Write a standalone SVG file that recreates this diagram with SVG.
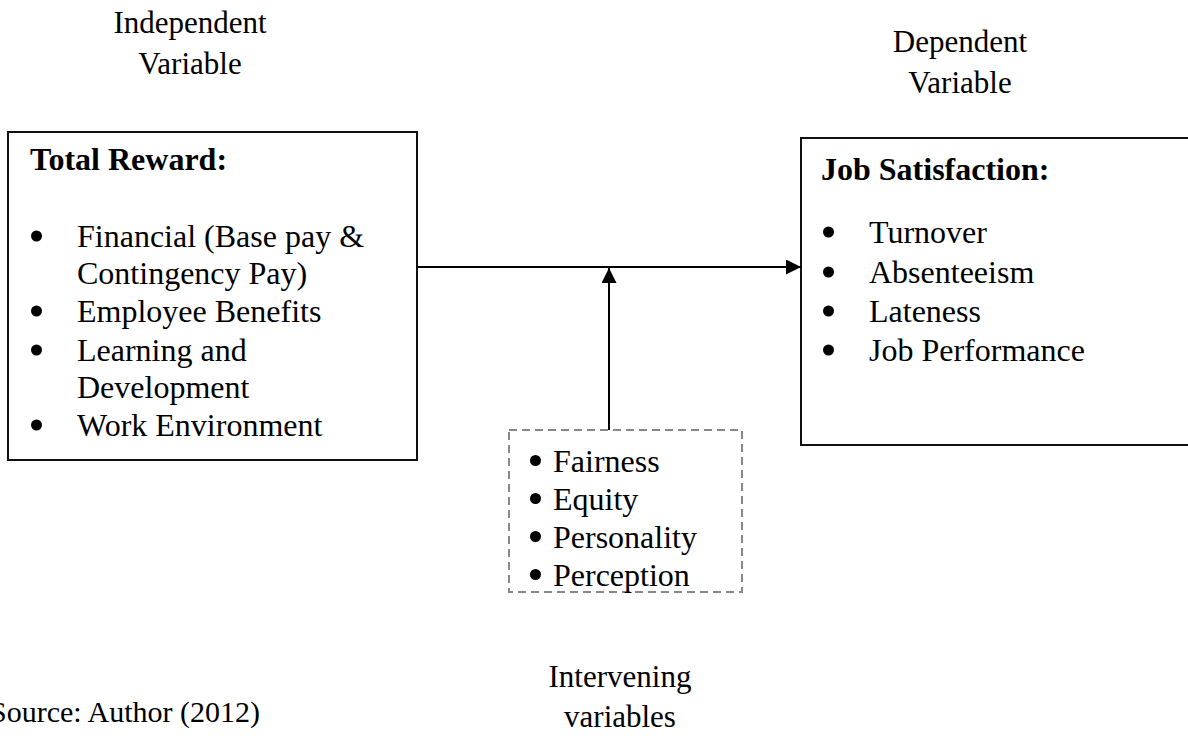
<svg xmlns="http://www.w3.org/2000/svg" width="1188" height="736" viewBox="0 0 1188 736">
<style>
text{font-family:"Liberation Serif","Times New Roman",serif;font-size:32px;fill:#000}
.h{font-size:31px}
.s{font-size:30px}
.b{font-weight:bold}
.c{text-anchor:middle}
.box{fill:#fff;stroke:#111;stroke-width:2}
.dash{fill:#fff;stroke:#888;stroke-width:2;stroke-dasharray:8 5}
.ln{stroke:#000;stroke-width:2;fill:none}
.dot{fill:#000}
</style>
<defs>
<marker id="ah" markerUnits="userSpaceOnUse" markerWidth="16" markerHeight="16" refX="15" refY="7.5" orient="auto">
<path d="M0,0 L15,7.5 L0,15 Z" fill="#000"/>
</marker>
</defs>
<g id="label-independent">
<text class="c h" x="190" y="33">Independent</text>
<text class="c h" x="190" y="74">Variable</text>
</g>
<g id="label-dependent">
<text class="c h" x="960" y="52">Dependent</text>
<text class="c h" x="960" y="93">Variable</text>
</g>
<g id="node-total-reward">
<rect class="box" x="8" y="132" width="409" height="328"/>
<text class="b" x="30" y="170">Total Reward:</text>
<circle class="dot" cx="36.5" cy="236" r="5.5"/><text x="77" y="247">Financial (Base pay &amp;</text>
<text x="77" y="284">Contingency Pay)</text>
<circle class="dot" cx="36.5" cy="311" r="5.5"/><text x="77" y="322">Employee Benefits</text>
<circle class="dot" cx="36.5" cy="350" r="5.5"/><text x="77" y="361">Learning and</text>
<text x="77" y="398">Development</text>
<circle class="dot" cx="36.5" cy="425" r="5.5"/><text x="77" y="436">Work Environment</text>
</g>
<g id="node-job-satisfaction">
<rect class="box" x="801" y="138" width="400" height="307"/>
<text class="b" x="821" y="180">Job Satisfaction:</text>
<circle class="dot" cx="828.5" cy="232" r="5.5"/><text x="869" y="243">Turnover</text>
<circle class="dot" cx="828.5" cy="272" r="5.5"/><text x="869" y="283">Absenteeism</text>
<circle class="dot" cx="828.5" cy="311" r="5.5"/><text x="869" y="322">Lateness</text>
<circle class="dot" cx="828.5" cy="350" r="5.5"/><text x="869" y="361">Job Performance</text>
</g>
<g id="node-intervening">
<rect class="dash" x="509" y="430" width="233" height="162"/>
<circle class="dot" cx="535.5" cy="460.5" r="5.5"/><text x="553" y="472">Fairness</text>
<circle class="dot" cx="535.5" cy="498.5" r="5.5"/><text x="553" y="510">Equity</text>
<circle class="dot" cx="535.5" cy="536.5" r="5.5"/><text x="553" y="548">Personality</text>
<circle class="dot" cx="535.5" cy="574.5" r="5.5"/><text x="553" y="586">Perception</text>
</g>
<g id="connectors">
<line class="ln" x1="417" y1="267" x2="801" y2="267" marker-end="url(#ah)"/>
<line class="ln" x1="609" y1="430" x2="609" y2="268" marker-end="url(#ah)"/>
</g>
<g id="label-intervening">
<text class="c h" x="620" y="687">Intervening</text>
<text class="c h" x="620" y="727">variables</text>
</g>
<g id="source">
<text class="s" x="-10" y="722">Source: Author (2012)</text>
</g>
</svg>
